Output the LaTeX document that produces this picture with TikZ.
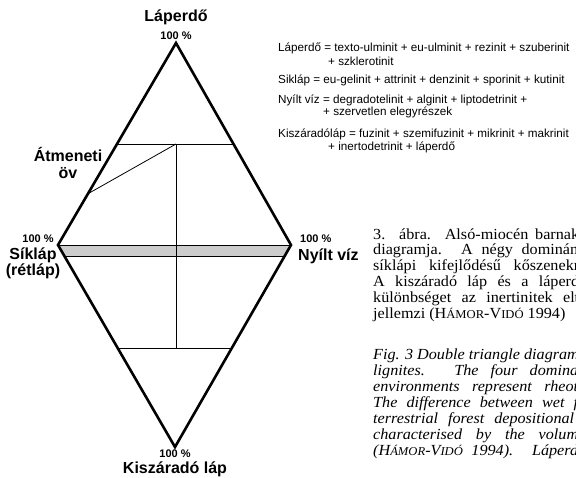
\documentclass[tikz,border=0pt]{standalone}
\usepackage{fontspec}
\setmainfont{Liberation Serif}[FakeStretch=1.05]
\newfontfamily\arial{Liberation Sans}
\newcommand{\smc}[1]{{\fontsize{12}{12}\selectfont #1}}
\begin{document}
\begin{tikzpicture}[x=1pt,y=-1pt,
  lbl/.style={font=\arial\bfseries\fontsize{16}{18}\selectfont, inner sep=0pt, anchor=base},
  pct/.style={font=\arial\bfseries\fontsize{11}{12}\selectfont, inner sep=0pt, anchor=base},
  leg/.style={font=\arial\fontsize{11.7}{13}\selectfont, anchor=base west, inner sep=0pt},
  captxt/.style={font=\fontsize{15.4}{16}\selectfont, anchor=base west, inner sep=0pt},
  capit/.style={font=\itshape\fontsize{15.4}{16}\selectfont, anchor=base west, inner sep=0pt},
  outline/.style={line width=2.6pt, line join=miter},
  thin/.style={line width=0.8pt}]
\useasboundingbox (0,0) rectangle (576,477);
\fill[white] (0,0) rectangle (576,477);
% diamond corners
\coordinate (T) at (176,43);
\coordinate (L) at (58,245);
\coordinate (R) at (291,245);
\coordinate (B) at (175,447);
% band
\coordinate (Lb) at (64.3,256.5);
\coordinate (Rb) at (285,256.5);
\fill[gray!40] (L) -- (R) -- (Rb) -- (Lb) -- cycle;
\draw[thin] (L) -- (R);
\draw[thin] (Lb) -- (Rb);
% inner lines
\coordinate (Lu) at (117,144);
\coordinate (Ru) at (233.5,144);
\coordinate (Mu) at (176,144);
\coordinate (Ll) at (117.7,348);
\coordinate (Rl) at (231.8,348);
\coordinate (Ml) at (176,348);
\coordinate (D) at (87.5,194);
\draw[thin] (Lu) -- (Ru);
\draw[thin] (Ll) -- (Rl);
\draw[thin] (Mu) -- (Ml);
\draw[thin] (D) -- (Mu);
\draw[outline] (T) -- (R) -- (B) -- (L) -- cycle;
% labels
\node[lbl] (lp) at (176,21) {Láperdő};
\node[pct] (p1) at (176,39) {100 \%};
\node[lbl] (at) at (68,161) {Átmeneti};
\node[lbl] (ov) at (68,178) {öv};
\node[pct] (p2) at (38,242) {100 \%};
\node[lbl] (sl) at (33,259) {Síkláp};
\node[lbl] (rl) at (33,275) {(rétláp)};
\node[pct, anchor=base west] (p3) at (300,242) {100 \%};
\node[lbl, anchor=base west] (nv) at (298,260) {Nyílt víz};
\node[pct] (p4) at (175,457.5) {100 \%};
\node[lbl] (kl) at (175,473) {Kiszáradó láp};
% legend
\node[leg] (g1) at (278,51.5) {Láperdő = texto-ulminit + eu-ulminit + rezinit + szuberinit};
\node[leg] (g2) at (328,65) {+ szklerotinit};
\node[leg] (g3) at (278,83.5) {Sikláp = eu-gelinit + attrinit + denzinit + sporinit + kutinit};
\node[leg] (g4) at (278,103) {Nyílt víz = degradotelinit + alginit + liptodetrinit +};
\node[leg] (g5) at (323,115.5) {+ szervetlen elegyrészek};
\node[leg] (g6) at (278,137) {Kiszáradóláp = fuzinit + szemifuzinit + mikrinit + makrinit};
\node[leg] (g7) at (328,150) {+ inertodetrinit + láperdő};
% caption
\node[captxt] (c1) at (373,239) {\makebox[206pt][s]{3. ábra. Alsó-miocén barnak}};
\node[captxt] (c2) at (373,254.8) {\makebox[205pt][s]{diagramja. A négy dominán}};
\node[captxt] (c3) at (373,270.6) {\makebox[206pt][s]{síklápi kifejlődésű kőszenekr}};
\node[captxt] (c4) at (373,286.4) {\makebox[206pt][s]{A kiszáradó láp és a láperd}};
\node[captxt] (c5) at (373,302.2) {\makebox[206pt][s]{különbséget az inertinitek elt}};
\node[captxt] (c6) at (373,318) {jellemzi (H\smc{ÁMOR}-V\smc{IDÓ} 1994)};
\node[capit] (i1) at (373,359) {Fig. 3 Double triangle diagram};
\node[capit] (i2) at (373,375) {\makebox[205pt][s]{lignites. The four domina}};
\node[capit] (i3) at (373,391) {\makebox[205pt][s]{environments represent rheot}};
\node[capit] (i4) at (373,407) {\makebox[205pt][s]{The difference between wet f}};
\node[capit] (i5) at (373,423) {\makebox[201pt][s]{terrestrial forest depositional}};
\node[capit] (i6) at (373,439) {\makebox[205pt][s]{characterised by the volum}};
\node[capit] (i7) at (373,455) {\makebox[205pt][s]{(H\smc{ÁMOR}-V\smc{IDÓ} 1994). Láperd}};
\end{tikzpicture}
\end{document}
